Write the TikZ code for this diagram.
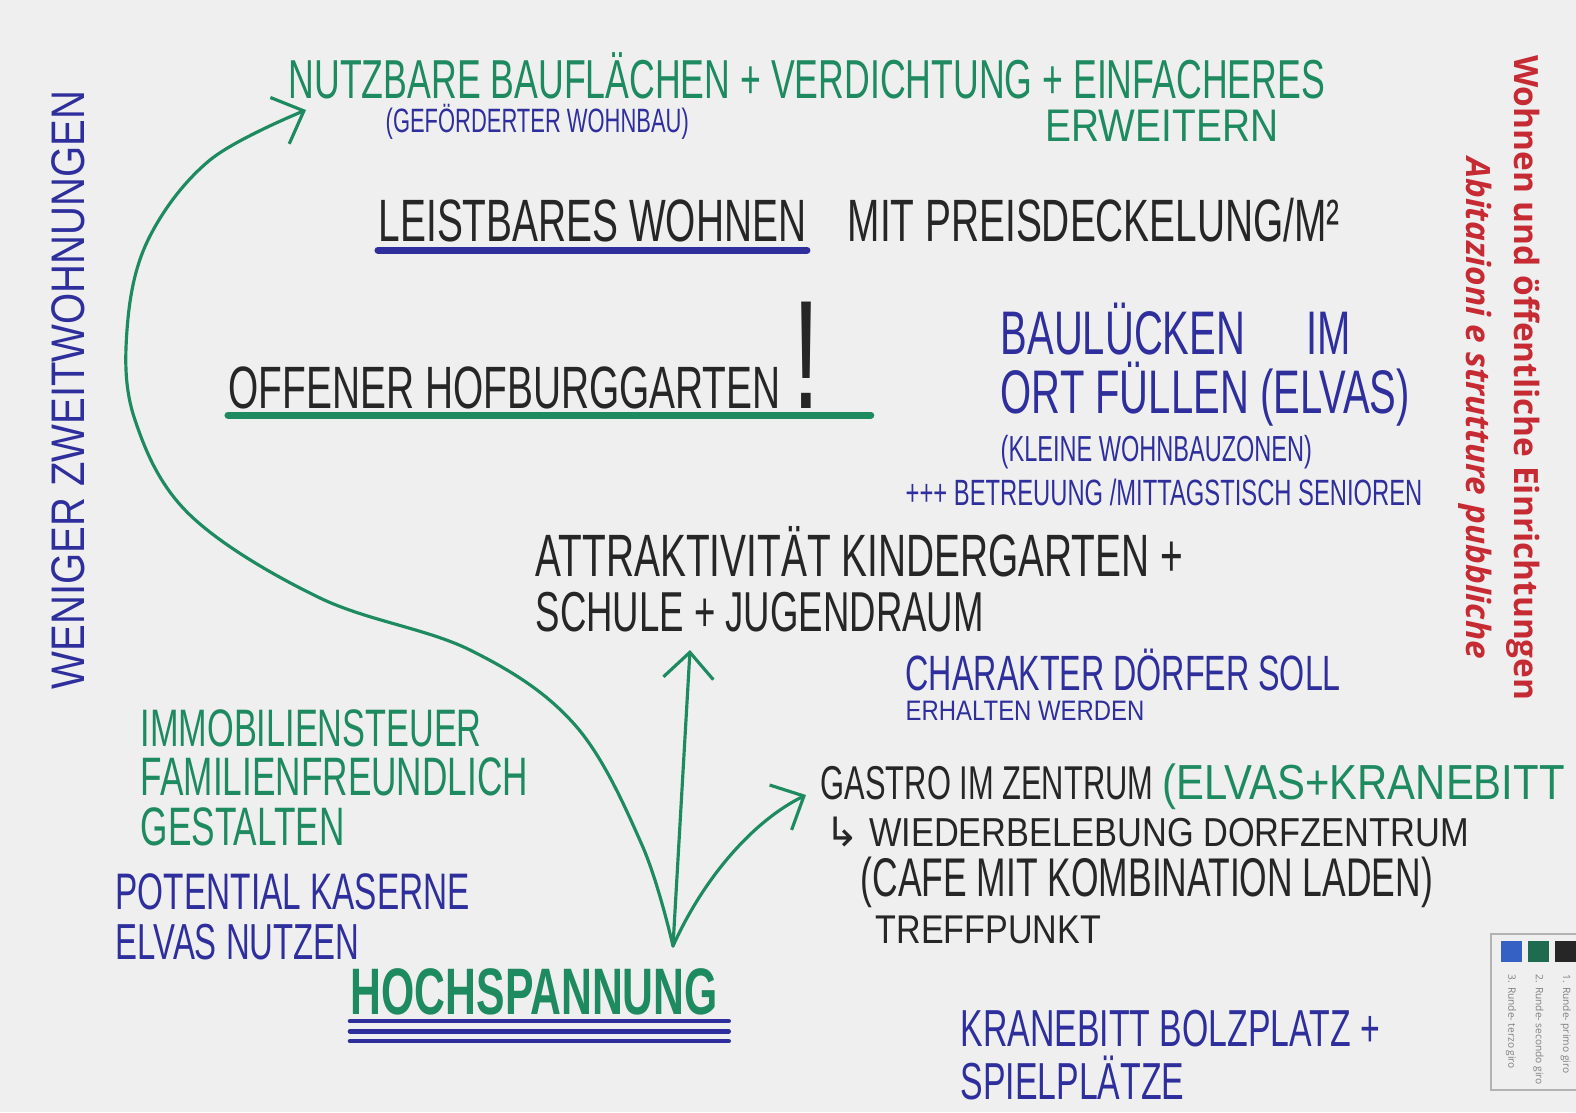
\documentclass[tikz,border=0pt]{standalone}
\usepackage{fontspec}
\setmainfont{Liberation Sans}
\newfontfamily\handfont[FakeStretch=0.65]{Liberation Sans}
\newfontfamily\handwide[FakeStretch=0.85]{Liberation Sans}
\newfontfamily\symfont{DejaVu Sans}
\newfontfamily\sheetfont{Open Sans}
\usepackage{xcolor}
\definecolor{inkgreen}{HTML}{1E8A5F}
\definecolor{inkblue}{HTML}{2E2F9C}
\definecolor{inkblack}{HTML}{262626}
\definecolor{printred}{HTML}{C62A33}
\definecolor{paper}{HTML}{EFEFF0}
\definecolor{legblue}{HTML}{3561C4}
\definecolor{leggreen}{HTML}{1F6B50}
\definecolor{legblack}{HTML}{262626}
\usepackage{tikz}
\usetikzlibrary{arrows.meta, positioning}
\newcommand{\pen}[1]{\handfont\fontsize{#1}{#1}\selectfont}
\newcommand{\penwide}[1]{\handwide\fontsize{#1}{#1}\selectfont}

\begin{document}
\begin{tikzpicture}[x=0.01cm, y=-0.01cm]
        % Define styles
        \tikzstyle{hand} = [inner sep=0pt, anchor=base west]
        \tikzstyle{gtext} = [hand, text=inkgreen]
        \tikzstyle{btext} = [hand, text=inkblue]
        \tikzstyle{ktext} = [hand, text=inkblack]
        \tikzstyle{line} = [draw, inkgreen, line width=0.9pt, line cap=round, -{Straight Barb[length=2.6mm, width=5mm, line width=0.9pt]}]
        \tikzstyle{underline} = [draw, line width=2pt, line cap=round]
        \tikzstyle{sheet} = [inner sep=0pt, text=printred, rotate=-90, font=\sheetfont\fontsize{9.5}{9.5}\selectfont\bfseries]
        \tikzstyle{legsq} = [inner sep=0pt, minimum size=0.21cm]
        \tikzstyle{legtext} = [inner sep=0pt, text=gray, rotate=-90, font=\sheetfont\fontsize{2.9}{2.9}\selectfont]

        % Paper
        \fill [paper] (0,0) rectangle (1576,1112);
        \useasboundingbox (0,0) rectangle (1576,1112);

        % Nodes
        \node [gtext, font=\pen{15.6}] (nutz) at (288,98) {NUTZBARE BAUFLÄCHEN + VERDICHTUNG + EINFACHERES};
        \node [btext, font=\pen{9.6}] (gef) at (385,132) {(GEFÖRDERTER WOHNBAU)};
        \node [gtext, font=\penwide{13}] (erw) at (1045,141) {ERWEITERN};

        \node [ktext, font=\pen{17}] (leist) at (378,241) {LEISTBARES WOHNEN};
        \node [ktext, font=\pen{17}, right=0.4cm of leist.base east, anchor=base west] (preis) {MIT PREISDECKELUNG/M²};

        \node [ktext, font=\pen{17}] (hof) at (228,408) {OFFENER HOFBURGGARTEN};
        \node [ktext, font=\pen{44}, right=0.1cm of hof.base east, anchor=base west] (bang) {!};

        \node [btext, font=\pen{17.5}] (bau1) at (1000,354) {BAULÜCKEN\hspace{1em}IM};
        \node [btext, font=\pen{17.5}, below=0.59cm of bau1.base west, anchor=base west] (bau2) {ORT FÜLLEN (ELVAS)};
        \node [btext, font=\pen{10.3}, below=0.48cm of bau2.base west, anchor=base west] (bau3) {(KLEINE WOHNBAUZONEN)};
        \node [btext, font=\pen{10.4}] (betr) at (905,505) {+++ BETREUUNG /MITTAGSTISCH SENIOREN};

        \node [ktext, font=\pen{17}] (attr) at (535,576) {ATTRAKTIVITÄT KINDERGARTEN +};
        \node [ktext, font=\pen{16}, below=0.55cm of attr.base west, anchor=base west] (schule) {SCHULE + JUGENDRAUM};

        \node [btext, font=\pen{14.1}] (char) at (905,690) {CHARAKTER DÖRFER SOLL};
        \node [btext, font=\penwide{8}, below=0.3cm of char.base west, anchor=base west] (erh) {ERHALTEN WERDEN};

        \node [gtext, font=\pen{15}] (immo) at (140,746) {IMMOBILIENSTEUER};
        \node [gtext, font=\pen{15.4}, below=0.49cm of immo.base west, anchor=base west] (fam) {FAMILIENFREUNDLICH};
        \node [gtext, font=\pen{15.4}, below=0.5cm of fam.base west, anchor=base west] (gest) {GESTALTEN};

        \node [btext, font=\pen{14.6}] (pot) at (115,909) {POTENTIAL KASERNE};
        \node [btext, font=\pen{14.4}, below=0.5cm of pot.base west, anchor=base west] (elvn) {ELVAS NUTZEN};

        \node [ktext, font=\pen{13.5}] (gastro) at (820,799) {GASTRO IM ZENTRUM};
        \node [gtext, font=\penwide{14}, right=0.08cm of gastro.base east, anchor=base west] (elvas) {(ELVAS+KRANEBITT};
        \node [ktext, font=\penwide{11.5}, below=0.47cm of gastro.base west, anchor=base west, xshift=0.05cm] (wieder) {{\symfont ↳} WIEDERBELEBUNG DORFZENTRUM};
        \node [ktext, font=\pen{15.5}] (cafe) at (860,896) {(CAFE MIT KOMBINATION LADEN)};
        \node [ktext, font=\penwide{11.4}] (treff) at (875,943) {TREFFPUNKT};

        \node [gtext, font=\pen{18.7}\bfseries] (hoch) at (350,1014) {HOCHSPANNUNG};

        \node [btext, font=\pen{14.8}] (kran) at (960,1046) {KRANEBITT BOLZPLATZ +};
        \node [btext, font=\pen{14.8}, below=0.53cm of kran.base west, anchor=base west] (spiel) {SPIELPLÄTZE};

        \node [btext, font=\penwide{13.4}, rotate=90, anchor=center] (wen) at (68,390) {WENIGER ZWEITWOHNUNGEN};

        \node [sheet] (titleDe) at (1523,378) {Wohnen und öffentliche Einrichtungen};
        \node [sheet, font=\sheetfont\fontsize{9.5}{9.5}\selectfont\bfseries\itshape] (titleIt) at (1475,408) {Abitazioni e strutture pubbliche};

        % Legend
        \draw [gray!60, line width=0.3pt] (1576,934) -| (1491,1090) -- (1576,1090);
        \node [legsq, fill=legblue] (sqBlue) at (1511,951) {};
        \node [legsq, fill=leggreen, right=0.05cm of sqBlue] (sqGreen) {};
        \node [legsq, fill=legblack, right=0.05cm of sqGreen] (sqBlack) {};
        \node [legtext, below=0.12cm of sqBlue.south, anchor=west] (leg3) {3. Runde- terzo giro};
        \node [legtext, below=0.12cm of sqGreen.south, anchor=west] (leg2) {2. Runde- secondo giro};
        \node [legtext, below=0.12cm of sqBlack.south, anchor=west] (leg1) {1. Runde- primo giro};

        % Underlines
        \draw [underline, inkblue] ([yshift=-2.6pt]leist.base west) -- ([yshift=-2.6pt]leist.base east);
        \draw [underline, inkgreen] ([yshift=-2pt]hof.base west) -- ([xshift=0.5cm, yshift=-2pt]bang.base east);
        \foreach \d in {2,4.9,7.7}
            \draw [underline, inkblue, line width=1.3pt] ([yshift=-\d pt]hoch.base west) -- ([xshift=0.1cm, yshift=-\d pt]hoch.base east);

        % Paths
        \coordinate (root) at (673,946);
        \coordinate (tipNutz) at (306,110);
        \coordinate (tipSchule) at (690,650);
        \coordinate (tipGastro) at (806,795);
        \path [line] (root) -- (tipSchule);
        \path [line] (root) .. controls (705,875) and (755,820) .. (tipGastro);
        \path [line] plot [smooth, tension=0.6] coordinates {(root) (642,845) (575,725) (470,650) (320,598) (190,515) (135,420) (127,330) (148,240) (210,160) (tipNutz)};

\end{tikzpicture}
\end{document}
